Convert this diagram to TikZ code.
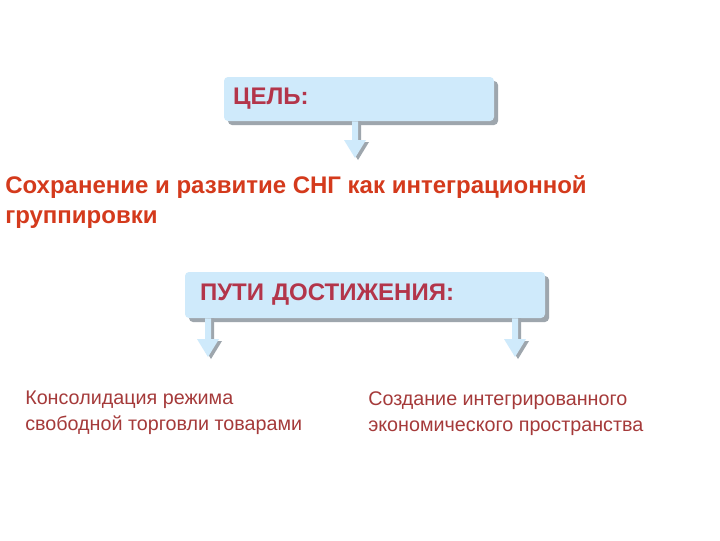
\documentclass[tikz,border=0pt]{standalone}
\usepackage{fontspec}
\setmainfont{Liberation Sans}
\usetikzlibrary{calc,shadows}
\definecolor{boxfill}{HTML}{CFEAFB}
\definecolor{shadowc}{HTML}{9EA6AD}
\definecolor{boxtext}{HTML}{B3354A}
\definecolor{titlec}{HTML}{D43A1C}
\definecolor{bodyc}{HTML}{A53A3A}
\tikzset{
  box/.style={rounded corners=3pt, fill=boxfill, draw=none, inner sep=0pt,
    drop shadow={shadow xshift=3pt, shadow yshift=-3pt, fill=shadowc, opacity=1},
    font=\fontsize{18}{21}\selectfont\bfseries, text=boxtext, align=left},
  titletext/.style={anchor=north west, inner sep=0pt, align=left,
    font=\fontsize{18}{22.5}\selectfont\bfseries, text=titlec},
  bodytext/.style={anchor=north west, inner sep=0pt, align=left,
    font=\fontsize{14.8}{19.5}\selectfont, text=bodyc},
}
\newcommand\fatarrow[2]{%
  \path let \p1=(#1), \p2=(#2) in
    [fill=shadowc] (\x1-2.25pt+2.25pt,\y1) -- (\x1+2.25pt+2.25pt,\y1) -- (\x1+2.25pt+2.25pt,\y2+13.5pt-1.5pt)
      -- (\x1+8.25pt+2.25pt,\y2+13.5pt-1.5pt) -- (\x1+2.25pt,\y2-1.5pt) -- (\x1-8.25pt+2.25pt,\y2+13.5pt-1.5pt)
      -- (\x1-2.25pt+2.25pt,\y2+13.5pt-1.5pt) -- cycle;
  \path let \p1=(#1), \p2=(#2) in
    [fill=boxfill] (\x1-2.25pt,\y1) -- (\x1+2.25pt,\y1) -- (\x1+2.25pt,\y2+13.5pt)
      -- (\x1+8.25pt,\y2+13.5pt) -- (\x1,\y2) -- (\x1-8.25pt,\y2+13.5pt)
      -- (\x1-2.25pt,\y2+13.5pt) -- cycle;
}
\begin{document}
\begin{tikzpicture}[x=0.75pt,y=-0.75pt]
\useasboundingbox[fill=white] (0,0) rectangle (720,540);
% boxes
\node[box, minimum width=202.5pt, minimum height=33pt, text width=189pt] (goal) at (359,99) {ЦЕЛЬ:};
\node[box, minimum width=270pt, minimum height=34.5pt, text width=247.5pt] (ways) at (365,295) {ПУТИ ДОСТИЖЕНИЯ:};
% texts
\node[titletext] (title) at (5,175) {Сохранение и развитие СНГ как интеграционной\\группировки};
\node[bodytext] (left) at (25,391) {Консолидация режима\\свободной торговли товарами};
\node[bodytext] (right) at (368,391) {Создание интегрированного\\экономического пространства};
% arrows
\coordinate (t1) at (355,158);
\coordinate (t2) at (208,357);
\coordinate (t3) at (515,357);
\fatarrow{goal.south -| t1}{t1}
\fatarrow{ways.south -| t2}{t2}
\fatarrow{ways.south -| t3}{t3}
\end{tikzpicture}
\end{document}
